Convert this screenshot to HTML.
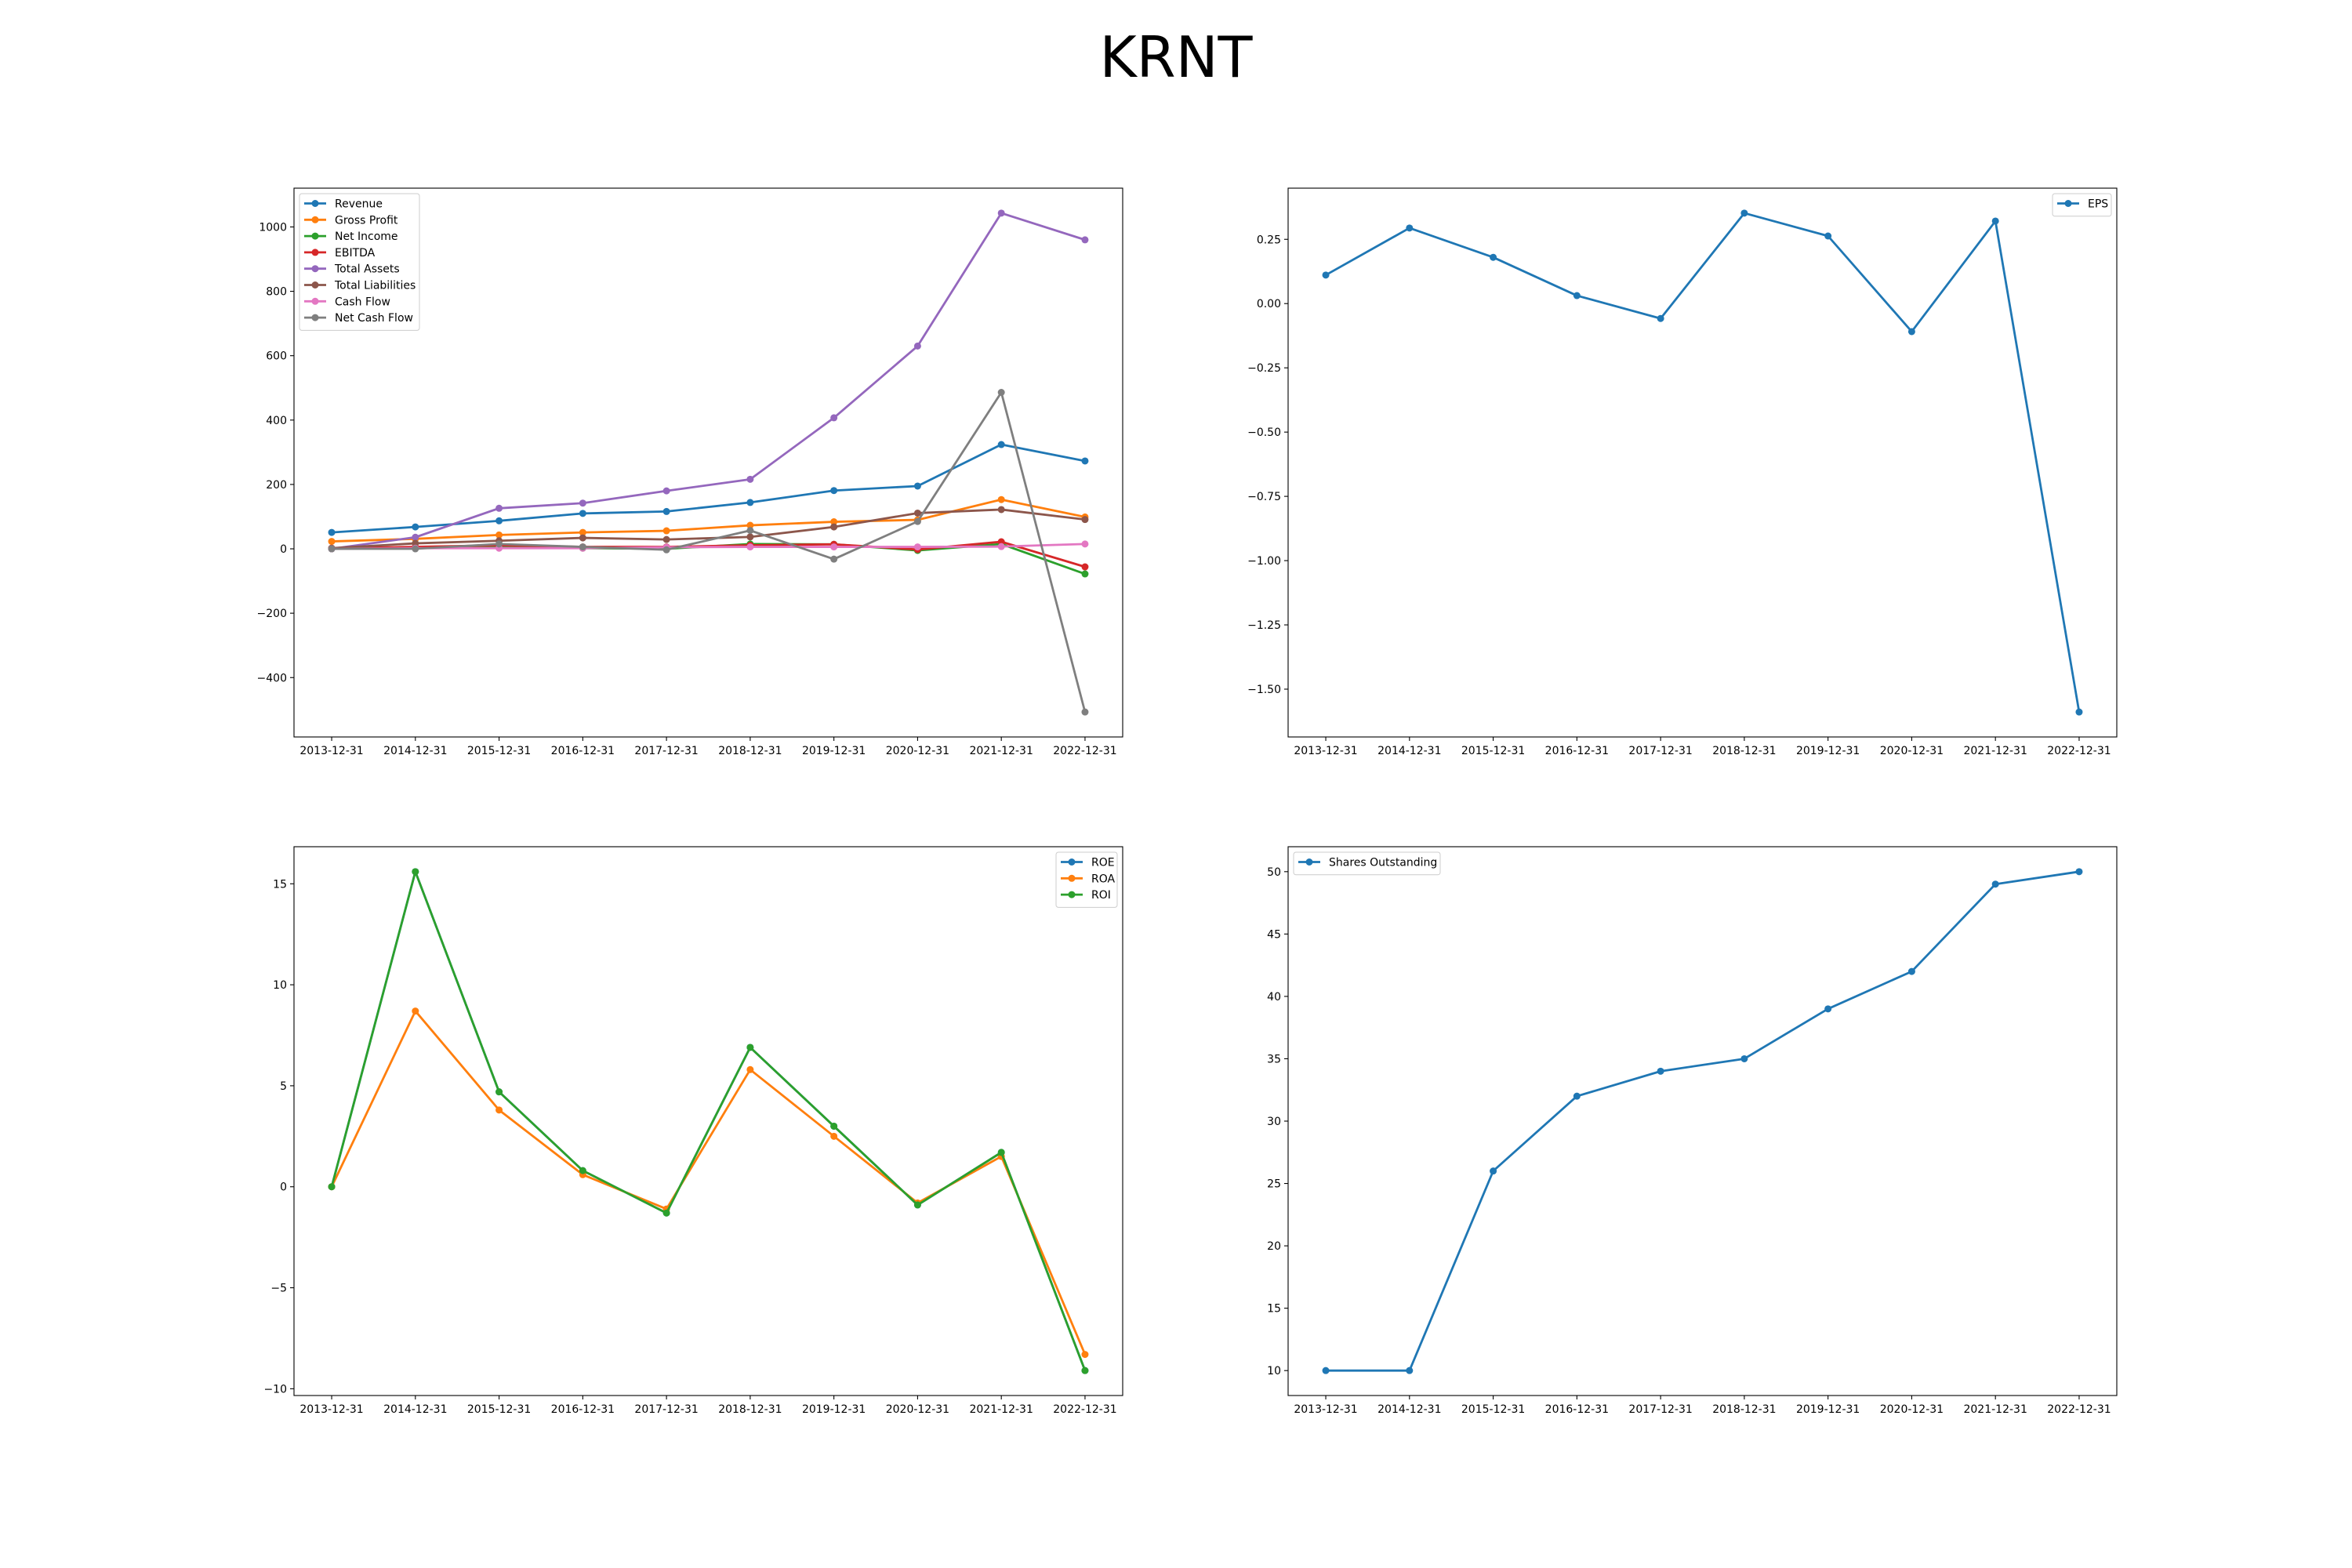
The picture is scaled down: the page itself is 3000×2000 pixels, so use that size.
<!DOCTYPE html>
<html><head><meta charset="utf-8"><title>KRNT</title>
<style>html,body{margin:0;padding:0;background:#fff;}svg{display:block;font-family:"DejaVu Sans","Liberation Sans",sans-serif;}</style>
</head><body>
<svg id="fig" width="3000" height="2000" viewBox="0 0 3000 2000" xmlns="http://www.w3.org/2000/svg">
<rect width="3000" height="2000" fill="#fff"/>
<text x="1500" y="98" text-anchor="middle" font-size="72" fill="#000">KRNT</text>
</svg>
<script>
const categories = ["2013-12-31","2014-12-31","2015-12-31","2016-12-31","2017-12-31","2018-12-31","2019-12-31","2020-12-31","2021-12-31","2022-12-31"];
const revenue = [51,68,87,110,116,144,181,195,324,273];
const grossProfit = [23,31,43,51,56,73,84,90,153,99];
const netIncome = [0,3,8,2,0,15,14,-5,15,-78];
const ebitda = [2,6,11,6,6,11,14,-2,22,-56];
const totalAssets = [0,36,126,142,180,216,407,630,1043,960];
const totalLiabilities = [2,17,25,34,29,37,68,111,122,91];
const cashFlow = [0,2,2,2,5,6,6,6,7,15];
const netCashFlow = [0,0,15,6,-3,57,-32,85,486,-507];
const eps = [0.111,0.294,0.18,0.031,-0.058,0.352,0.263,-0.109,0.321,-1.589];
const roe = [0,15.6,4.7,0.8,-1.3,6.9,3.0,-0.9,1.7,-9.1];
const roa = [0,8.7,3.8,0.6,-1.1,5.8,2.5,-0.8,1.5,-8.3];
const roi = [0,15.6,4.7,0.8,-1.3,6.9,3.0,-0.9,1.7,-9.1];
const shares = [10,10,26,32,34,35,39,42,49,50];
const ticksFin = [-400,-200,0,200,400,600,800,1000];
const ticksEps = [-1.5,-1.25,-1.0,-0.75,-0.5,-0.25,0.0,0.25];
const ticksRatio = [-10,-5,0,5,10,15];
const ticksShares = [10,15,20,25,30,35,40,45,50];

const NS = "http://www.w3.org/2000/svg";
const fig = document.getElementById('fig');
function mk(tag, attrs, parent){const e=document.createElementNS(NS,tag);for(const k in attrs)e.setAttribute(k,attrs[k]);(parent||fig).appendChild(e);return e;}
const LW=2.8, MR=4.5;
function drawChart(name, box, series, ticks, fmt, legendPos){
  const g = mk('g',{});
  
  
  let mn=Infinity,mx=-Infinity;
  series.forEach(s=>s.data.forEach(v=>{mn=Math.min(mn,v);mx=Math.max(mx,v);}));
  const pad=(mx-mn)*0.05; const y0=mn-pad, y1=mx+pad;
  const n=categories.length;
  const xs=i=>box.x+(i+0.45)/(n-1+0.9)*box.w;
  const ys=v=>box.y+box.h-(v-y0)/(y1-y0)*box.h;
  categories.forEach((c,i)=>{
    const x=xs(i);
    mk('line',{x1:x,x2:x,y1:box.y+box.h,y2:box.y+box.h+5,stroke:'#000','stroke-width':1.1},g);
    const t=mk('text',{x:x,y:box.y+box.h+22,'text-anchor':'middle','font-size':14,fill:'#000'},g);
    t.textContent=c;
    
    
  });
  ticks.forEach(v=>{
    const y=ys(v);
    mk('line',{x1:box.x-5,x2:box.x,y1:y,y2:y,stroke:'#000','stroke-width':1.1},g);
    const t=mk('text',{x:box.x-9,y:y+5,'text-anchor':'end','font-size':14,fill:'#000'},g);
    t.textContent=fmt(v);
    
    
  });
  series.forEach(s=>{
    const sg=mk('g',{},g);
    
    
    mk('polyline',{points:s.data.map((v,i)=>xs(i)+','+ys(v)).join(' '),fill:'none',stroke:s.color,'stroke-width':LW,'stroke-linejoin':'round'},sg);
    s.data.forEach((v,i)=>{const c=mk('circle',{cx:xs(i),cy:ys(v),r:MR,fill:s.color},sg);
      
      });
  });
  const fr=mk('rect',{x:box.x,y:box.y,width:box.w,height:box.h,fill:'none',stroke:'#000','stroke-width':1.1},g);
  
  
  const lw=legendPos.w, lh=series.length*20.8+8;
  const lx=legendPos.right?box.x+box.w-7-lw:box.x+7, ly=box.y+7;
  const lg=mk('g',{},g);
  
  
  mk('rect',{x:lx,y:ly,width:lw,height:lh,rx:3,fill:'#fff','fill-opacity':0.8,stroke:'#ccc','stroke-width':1},lg);
  series.forEach((s,i)=>{
    const yy=ly+12.5+i*20.8;
    const eg=mk('g',{},lg);
    
    
    mk('line',{x1:lx+6,x2:lx+34,y1:yy,y2:yy,stroke:s.color,'stroke-width':LW},eg);
    mk('circle',{cx:lx+20,cy:yy,r:MR,fill:s.color},eg);
    const t=mk('text',{x:lx+45,y:yy+5,'font-size':14,fill:'#000'},eg);
    t.textContent=s.name;
  });
}
const fmt0=v=>(v<0?'\u2212':'')+Math.abs(v);
const fmt2=v=>(v<0?'\u2212':'')+Math.abs(v).toFixed(2);
const C=['#1f77b4','#ff7f0e','#2ca02c','#d62728','#9467bd','#8c564b','#e377c2','#7f7f7f'];
drawChart('financials-chart',{x:375,y:240,w:1057,h:700},[
 {name:'Revenue',data:revenue,color:C[0]},{name:'Gross Profit',data:grossProfit,color:C[1]},
 {name:'Net Income',data:netIncome,color:C[2]},{name:'EBITDA',data:ebitda,color:C[3]},
 {name:'Total Assets',data:totalAssets,color:C[4]},{name:'Total Liabilities',data:totalLiabilities,color:C[5]},
 {name:'Cash Flow',data:cashFlow,color:C[6]},{name:'Net Cash Flow',data:netCashFlow,color:C[7]}],ticksFin,fmt0,{w:153,right:false});
drawChart('eps-chart',{x:1643,y:240,w:1057,h:700},[{name:'EPS',data:eps,color:C[0]}],ticksEps,fmt2,{w:75,right:true});
drawChart('ratios-chart',{x:375,y:1080,w:1057,h:700},[
 {name:'ROE',data:roe,color:C[0]},{name:'ROA',data:roa,color:C[1]},{name:'ROI',data:roi,color:C[2]}],ticksRatio,fmt0,{w:78,right:true});
drawChart('shares-chart',{x:1643,y:1080,w:1057,h:700},[{name:'Shares Outstanding',data:shares,color:C[0]}],ticksShares,fmt0,{w:187,right:false});
</script>
</body></html>
